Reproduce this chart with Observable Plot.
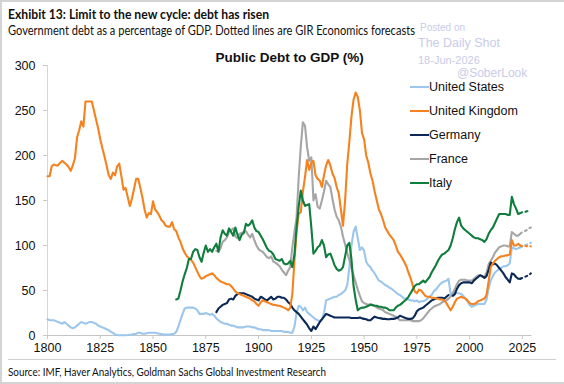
<!DOCTYPE html>
<html><head><meta charset="utf-8">
<script src="https://cdn.jsdelivr.net/npm/d3@7"></script>
<script src="https://cdn.jsdelivr.net/npm/@observablehq/plot@0.6"></script>
<style>
html,body{margin:0;padding:0;background:#fff;}
#wrap{position:relative;width:564px;height:384px;overflow:hidden;box-sizing:border-box;border:2px solid #d4d4d4;border-right:none;}
.t{position:absolute;white-space:nowrap;transform-origin:0 0;line-height:13px;}
#plot{position:absolute;left:-2px;top:-2px;}
#plot svg g[aria-label="x-axis tick"] path,#plot svg g[aria-label="y-axis tick"] path{stroke:#c8c8c8;}
.leg{position:absolute;font-family:"Liberation Sans",Arial,sans-serif;font-size:12.5px;color:#111;white-space:nowrap;line-height:15px;}
.sw{position:absolute;height:2.5px;width:19px;}
.wm{position:absolute;font-family:"Liberation Sans",Arial,sans-serif;color:#c9cbe8;white-space:nowrap;line-height:1;}
</style></head>
<body><div id="wrap">
<div class="t" id="title" style="left:6px;top:6px;font-family:Lato,sans-serif;font-weight:700;font-size:13px;color:#111;">Exhibit 13: Limit to the new cycle: debt has risen</div>
<div class="t" id="sub" style="left:6px;top:22px;font-family:Lato,sans-serif;font-size:13px;color:#111;">Government debt as a percentage of GDP. Dotted lines are GIR Economics forecasts</div>
<div id="plot"></div>
<div class="wm" style="left:418px;top:21px;font-size:10px;">Posted on</div>
<div class="wm" style="left:416px;top:35px;font-size:12.5px;">The Daily Shot</div>
<div class="wm" style="left:416px;top:53px;font-size:11px;">18-Jun-2026</div>
<div class="wm" style="left:455px;top:65px;font-size:12px;">@SoberLook</div>
<div id="legend"></div>
<div style="position:absolute;left:6px;top:357px;width:548px;height:1px;background:#cfcfcf;"></div>
<div class="t" id="src" style="left:6px;top:363px;font-family:Lato,sans-serif;font-size:12px;color:#111;">Source: IMF, Haver Analytics, Goldman Sachs Global Investment Research</div>
</div>
<script>
// ---------- data ----------
const countries = ["United States","United Kingdom","Germany","France","Italy"];
const colors = ["#9cc6ec","#f5821f","#0b2856","#a6a6a6","#0f7d3c"];
const xTicks = [1800,1825,1850,1875,1900,1925,1950,1975,2000,2025];
const yTicks = [0,50,100,150,200,250,300];

const usStart = 1800;
const usDebt = [18,17,17,17,16,15,14,13,15,13,11,9,8,9,11,13,15,14,13,14,15,15,14,13,11,10,9,8,7,6,4,3,1,0.5,0.3,0.2,0.2,0.3,0.5,0.8,1,1.5,2,3,3,2,2,2.5,3,3,3,3,2.5,2,1.5,1,1,1,1,1.5,2,4,10,17,24,30,31,31,31,31,30,28,24,24,24,25,24,23,24,22,19,17,15,14,13,13,12,11,11,10,9,9,9,9,10,10,10,9,9,8,7,7,6,6,6,6,5,5,5,5,5,5,4,4,4,3,3,10,25,33,32,28,31,26,24,22,20,18,17,16,18,25,39,40,41,42,43,43,45,46,48,50,56,75,100,115,121,108,95,98,94,82,78,76,72,69,65,61,60,58,56,55,53,52,50,48,46,45,43,41,41,40,39,39,38,39,37,38,38,39,41,43,45,49,51,54,57,59,60,61,63,46,47,48,47,47,46,44,41,38,34,32,33,34,35,35,35,35,40,52,61,66,70,72,74,75,77,77,78,80,98,97,96,97,98];
const usForecast = [98,99,100,101,102,103];

const ukStart = 1800;
const ukDebt = [177,177,188,190,189,189,192,194,192,190,187,183,189,197,220,228,238,232,260,260,260,260,250,240,230,218,208,199,189,178,174,181,178,188,191,177,162,164,154,144,152,163,174,174,164,153,140,131,136,135,149,140,137,133,128,126,122,121,121,126,118,116,109,104,97,92,88,86,84,81,76,71,66,63,64,66,67,68,69,67,64,62,60,59,58,57,57,55,52,49,47,46,45,44,43,42,41,39,38,35,33,37,39,38,37,36,35,34,34,33,33,32,31,30,28,31,46,83,115,135,137,160,176,195,184,192,194,178,174,172,165,178,189,195,189,180,175,165,158,140,122,150,190,215,243,262,270,265,250,225,218,200,192,180,172,160,150,140,135,128,120,116,112,109,106,100,93,90,86,82,77,70,64,56,49,47,51,50,47,44,43,43,42,42,41,41,40,40,39,36,32,28,32,37,41,42,43,42,41,39,36,35,35,36,38,39,40,41,45,60,76,80,83,85,87,88,88,89,89,90,106,100,100,102,100];
const ukForecast = [100,99,100,99,100,99];

const deStart = 1880;
const deDebt = [26,30,32,34,35,36,40,41,40,44,46,47,47,47,46,45,44,43,41,40,39,43,42,40,39,41,43,40,41,43,43,42,42,40,37,35,31,28,26,24,21,18,15,12,8,5,10,7,11,15,18,21,24,23,22,21,20,20,20,20,20,20,20,20,19.5,19.5,19.5,19.5,20,19,18.5,18,17,17,19,21,20,19.5,19,18.5,18.5,18,18,18.5,18.5,19,20,22,21,20,19,18.5,18.5,19,22,27,29,30,31,33,35,37,39,40,41,42,42,42,41,43,45,null,44,46,52,56,58,59,59,59,59,58,61,63,65,67,66,64,66,73,81,79,80,78,75,72,69,65,62,59,69,68,65,63,63];
const deForecast = [63,64,65,66,67,69];

const frStart = 1880;
const frDebt = [94,93,97,104,106,109,115,117,119,110,108,113,114,115,116,112,109,113,106,100,96,94,93,90,87,86,88,82,81,79,77,73,70,67,72,76,98,115,131,175,210,237,233,209,194,198,150,157,143,141,150,160,172,168,165,152,140,132,128,121,110,101,92,84,75,67,59,51,44,38,36,35,34,35,33,33,31,30,29,28,26,25,24,23,22,21,19,17,17,17,17,17,17,16,16,16,16,17,19,22,25,28,30,32,33,34,35,37,38,39,41,43,47,52,57,61,62,62,62,61,61,61,63,65,67,67,65,65,70,79,83,87,92,95,98,99,100,100,99,99,115,113,111,111,113];
const frForecast = [113,115,116,117,119,120];

const itStart = 1861;
const itDebt = [40,41,50,60,68,75,85,85,93,96,95,87,82,92,100,93,96,93,98,102,93,109,117,113,111,119,115,111,120,112,106,112,114,124,122,124,128,120,116,115,111,107,102,97,94,93,90,85,84,83,85,80,79,80,83,76,90,120,143,161,150,144,145,146,120,91,94,98,100,106,100,87,90,91,85,78,74,72,73,76,88,100,103,85,55,40,28,30,31,31,32,33,34,34,33,33,32,32,31,31,30,28,28,28,31,33,34,36,38,40,43,47,51,55,57,57,59,61,59,62,65,70,74,78,83,87,90,91,93,95,100,108,118,126,131,122,119,117,115,113,111,109,108,108,107,106,104,107,113,117,120,125,130,135,135,135,135,134,134,154,146,141,135,136];
const itForecast = [136,137,137,138,138,138];
const forecastStart = 2024;

// ---------- build tables ----------
const series = [
  {name:"United States", start:usStart, vals:usDebt, fc:usForecast},
  {name:"United Kingdom", start:ukStart, vals:ukDebt, fc:ukForecast},
  {name:"Germany", start:deStart, vals:deDebt, fc:deForecast},
  {name:"France", start:frStart, vals:frDebt, fc:frForecast},
  {name:"Italy", start:itStart, vals:itDebt, fc:itForecast}
];
const hist = [], fcst = [];
for (const s of series) {
  s.vals.forEach((v,i)=>hist.push({country:s.name, year:s.start+i, value:v}));
  s.fc.forEach((v,i)=>fcst.push({country:s.name, year:forecastStart+i, value:v}));
}
const drawOrder = ["United States","France","Germany","United Kingdom","Italy"];
const colorOf = Object.fromEntries(countries.map((c,i)=>[c,colors[i]]));

const marks = [
  Plot.ruleX([1800],{stroke:"#d6d6d6"}),
  Plot.ruleY([0],{stroke:"#c4c4c4"}),
  Plot.axisY({ticks:yTicks, tickSize:4, tickPadding:8, fontSize:12.5, fill:"#111", label:null}),
  Plot.axisX({ticks:xTicks, tickSize:4, tickPadding:4, fontSize:12.5, fill:"#111", tickFormat:d=>String(d), label:null})
];
for (const c of drawOrder) {
  marks.push(Plot.lineY(hist.filter(d=>d.country===c),{x:"year",y:"value",stroke:colorOf[c],strokeWidth:2.1}));
  marks.push(Plot.lineY(fcst.filter(d=>d.country===c),{x:"year",y:"value",stroke:colorOf[c],strokeWidth:2.1,strokeDasharray:"2,3.5"}));
}
marks.push(Plot.text(["Public Debt to GDP (%)"],{frameAnchor:"top",dy:-13,text:d=>d,fontWeight:"bold",fontSize:13.5,fill:"#111"}));

const chart = Plot.plot({
  width:564, height:384,
  marginLeft:47, marginRight:32.6, marginTop:65, marginBottom:49,
  x:{domain:[1800,2029.5]},
  y:{domain:[0,300]},
  style:{fontFamily:"'Liberation Sans', Arial, sans-serif", fontSize:"12.5px", color:"#111", background:"transparent", overflow:"visible"},
  marks
});
document.getElementById("plot").appendChild(chart);

// legend
const leg = document.getElementById("legend");
const legTop = [79,103,127,151,175];
countries.forEach((c,i)=>{
  const sw=document.createElement("div"); sw.className="sw";
  sw.style.left=(408)+"px"; sw.style.top=(legTop[i]+4.5)+"px"; sw.style.background=colors[i];
  leg.appendChild(sw);
  const t=document.createElement("div"); t.className="leg"; t.textContent=c;
  t.style.left="427px"; t.style.top=(legTop[i]-1)+"px";
  leg.appendChild(t);
});

// fit text widths to reference
function fit(id, w){const e=document.getElementById(id);const r=e.getBoundingClientRect().width;e.style.transform=`scaleX(${w/r})`;}
fit("title",261); fit("sub",407); fit("src",318);
</script>
</body></html>
